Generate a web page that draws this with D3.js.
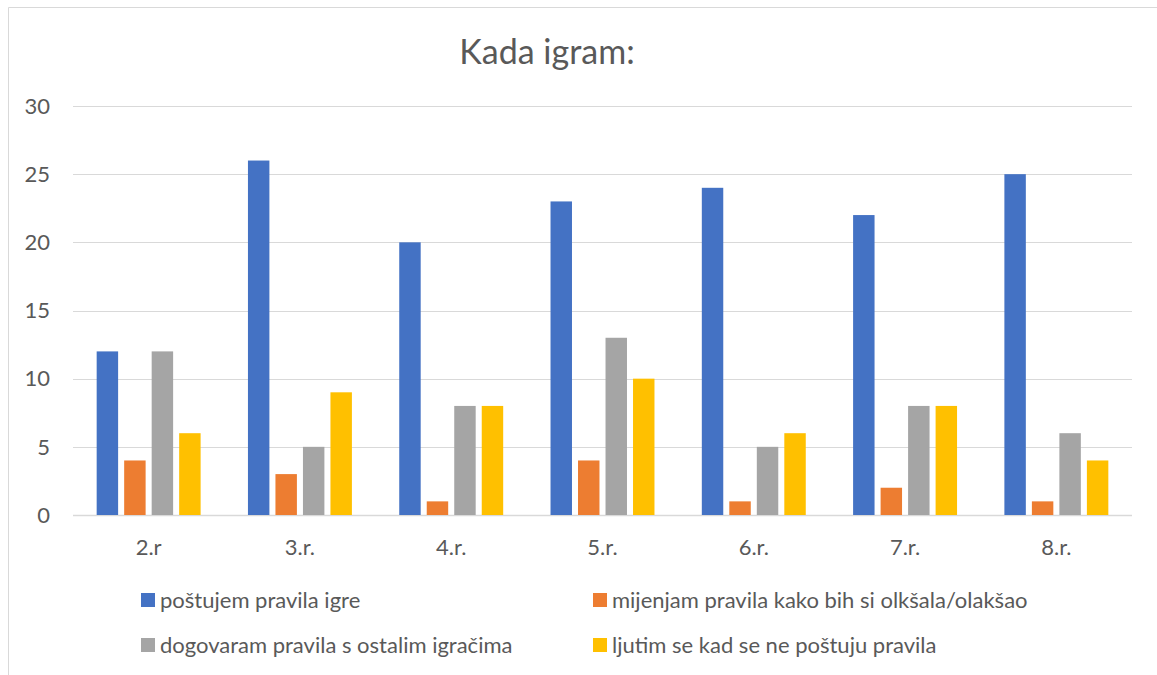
<!DOCTYPE html>
<html>
<head>
<meta charset="utf-8">
<script src="https://cdn.jsdelivr.net/npm/d3@7"></script>
<style>
  body { margin: 0; background: #fff; }
  text { font-family: Lato, "Open Sans", sans-serif; fill: #595959; }
</style>
</head>
<body>
<script>
var categories = ["2.r", "3.r.", "4.r.", "5.r.", "6.r.", "7.r.", "8.r."];
var seriesNames = ["poštujem pravila igre", "mijenjam pravila kako bih si olkšala/olakšao",
                   "dogovaram pravila s ostalim igračima", "ljutim se kad se ne poštuju pravila"];
var postujem = [12, 26, 20, 23, 24, 22, 25];
var mijenjam = [4, 3, 1, 4, 1, 2, 1];
var dogovaram = [12, 5, 8, 13, 5, 8, 6];
var ljutim = [6, 9, 8, 10, 6, 8, 4];
var yTicks = [0, 5, 10, 15, 20, 25, 30];
var colors = ["#4472C4", "#ED7D31", "#A5A5A5", "#FFC000"];

var series = [postujem, mijenjam, dogovaram, ljutim];

var width = 1157, height = 675;
var margin = {top: 106, left: 73, right: 25, bottom: 160};

var svg = d3.select("body").append("svg")
    .attr("width", width)
    .attr("height", height);

// chart frame
svg.append("path")
    .attr("d", "M8.5,675 V7.5 H1157")
    .attr("fill", "none")
    .attr("stroke", "#D9D9D9")
    .attr("stroke-width", 1);

var x0 = d3.scaleBand()
    .domain(categories)
    .range([margin.left, width - margin.right]);

var x1 = d3.scaleBand()
    .domain(d3.range(series.length))
    .range([0, 110])
    .paddingInner(0.22)
    .paddingOuter(0.11);

var y = d3.scaleLinear()
    .domain([0, 30])
    .range([height - margin.bottom, margin.top]);

// gridlines
svg.append("g")
  .selectAll("line")
  .data(yTicks)
  .enter().append("line")
    .attr("x1", margin.left)
    .attr("x2", width - margin.right)
    .attr("y1", function(d) { return Math.round(y(d)) + 0.5; })
    .attr("y2", function(d) { return Math.round(y(d)) + 0.5; })
    .attr("stroke", "#D9D9D9")
    .attr("stroke-width", function(d) { return d === 0 ? 1.5 : 1; });

// y labels
svg.append("g")
  .selectAll("text")
  .data(yTicks)
  .enter().append("text")
    .attr("x", 50)
    .attr("y", function(d) { return y(d); })
    .attr("dy", "0.35em")
    .attr("text-anchor", "end")
    .style("font-size", "22px")
    .text(function(d) { return d; });

// bars
var groups = svg.append("g")
  .selectAll("g")
  .data(categories)
  .enter().append("g")
    .attr("transform", function(d) { return "translate(" + (x0(d) + x0.bandwidth() / 2 - 55) + ",0)"; });

groups.selectAll("rect")
  .data(function(d, i) { return series.map(function(s, k) { return {k: k, v: s[i]}; }); })
  .enter().append("rect")
    .attr("x", function(d) { return x1(d.k); })
    .attr("width", x1.bandwidth())
    .attr("y", function(d) { return y(d.v); })
    .attr("height", function(d) { return y(0) - y(d.v); })
    .attr("fill", function(d) { return colors[d.k]; });

// x labels
svg.append("g")
  .selectAll("text")
  .data(categories)
  .enter().append("text")
    .attr("x", function(d) { return x0(d) + x0.bandwidth() / 2; })
    .attr("y", 555)
    .attr("text-anchor", "middle")
    .style("font-size", "22px")
    .text(function(d) { return d; });

// title
svg.append("text")
    .attr("x", 547)
    .attr("y", 64)
    .attr("text-anchor", "middle")
    .style("font-size", "34px")
    .text("Kada igram:");

// legend
var legendPos = [[141, 600], [593, 600], [141, 645], [593, 645]];
var legend = svg.append("g")
  .selectAll("g")
  .data(seriesNames)
  .enter().append("g")
    .attr("transform", function(d, i) { return "translate(" + legendPos[i][0] + "," + legendPos[i][1] + ")"; });

legend.append("rect")
    .attr("x", 0)
    .attr("y", -7)
    .attr("width", 14)
    .attr("height", 14)
    .attr("fill", function(d, i) { return colors[i]; });

legend.append("text")
    .attr("x", 19)
    .attr("y", 0)
    .attr("dy", "0.35em")
    .style("font-size", "22px")
    .text(function(d) { return d; });
</script>
</body>
</html>
